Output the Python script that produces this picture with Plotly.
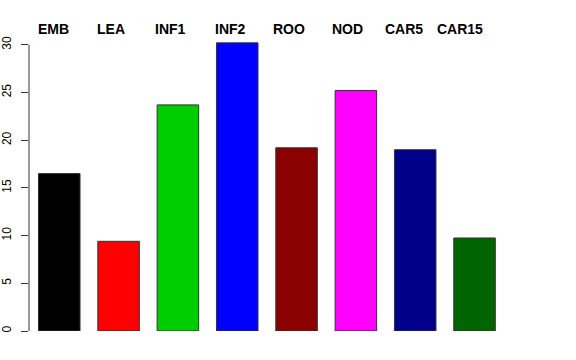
import plotly.graph_objects as go

categories = ["EMB", "LEA", "INF1", "INF2", "ROO", "NOD", "CAR5", "CAR15"]
values = [16.5, 9.4, 23.7, 30.2, 19.2, 25.2, 19.0, 9.75]
colors = ["#000000", "#FF0000", "#00CD00", "#0000FF", "#8B0000", "#FF00FF", "#00008B", "#006400"]
label_x = [-0.40, 0.61, 1.58, 2.59, 3.57, 4.56, 5.45, 6.33]
y_ticks = [0, 5, 10, 15, 20, 25, 30]

positions = list(range(len(categories)))

fig = go.Figure()
fig.add_trace(go.Bar(
    x=positions, y=values,
    marker=dict(color=colors, line=dict(color="#333333", width=1)),
    width=0.7, hoverinfo="skip", showlegend=False,
))

for lx, name in zip(label_x, categories):
    fig.add_annotation(x=lx, y=1.0, xref="x", yref="paper", yshift=11,
                       text="<b>%s</b>" % name,
                       showarrow=False, xanchor="left", yanchor="middle",
                       font=dict(family="Liberation Sans, Arial, sans-serif", size=14, color="black"))

# y axis line spanning 0..30 like R
fig.add_shape(type="line", xref="paper", yref="y", x0=0, x1=0, y0=0, y1=30,
              line=dict(color="#333333", width=1))

fig.update_layout(
    width=576, height=360,
    margin=dict(l=29, r=54, t=40, b=29),
    paper_bgcolor="white", plot_bgcolor="white",
    font=dict(family="Liberation Sans, Arial, sans-serif", color="black"),
    xaxis=dict(range=[-0.51, 7.8], showgrid=False, zeroline=False, showline=False,
               showticklabels=False, ticks="", automargin=False),
    yaxis=dict(range=[0, 30.5], showgrid=False, zeroline=False, showline=False,
               tickvals=y_ticks, ticktext=[str(v) for v in y_ticks],
               ticks="outside", ticklen=7, tickcolor="#333333", tickwidth=1,
               tickangle=-90, tickfont=dict(size=12, color="black"),
               ticklabelstandoff=5, automargin=False),
)

fig.write_html("out.html", config={"displayModeBar": False},
               post_script="document.body.style.margin='0';")
